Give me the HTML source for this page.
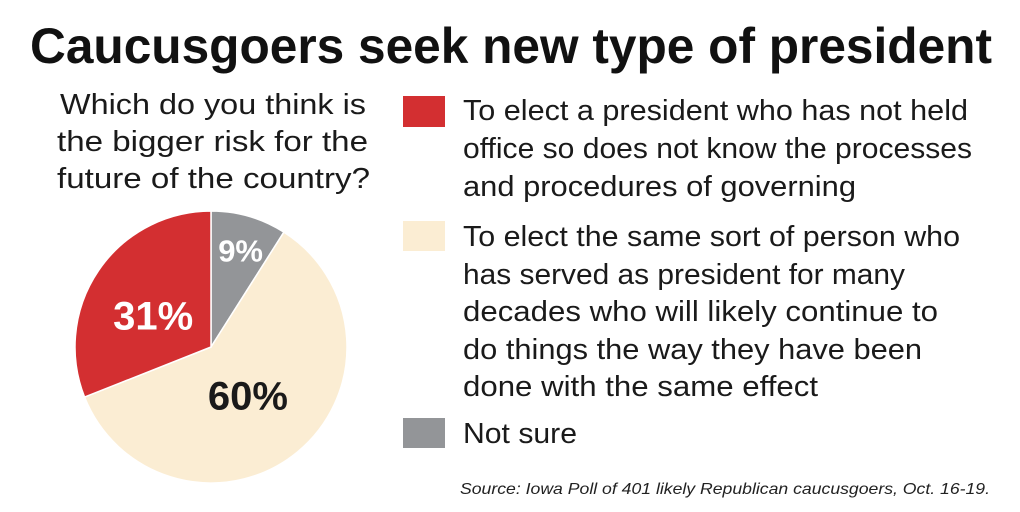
<!DOCTYPE html>
<html><head><meta charset="utf-8"><style>
body{margin:0;background:#fff}
svg{display:block;font-family:"Liberation Sans",sans-serif}
</style></head><body>
<svg width="1020" height="512" viewBox="0 0 1020 512">
<text x="30" y="63" font-size="50" font-weight="bold" fill="#111" textLength="962" lengthAdjust="spacingAndGlyphs">Caucusgoers seek new type of president</text>
<g font-size="29" fill="#1a1a1a">
<text x="60" y="114" textLength="306" lengthAdjust="spacingAndGlyphs">Which do you think is</text>
<text x="57" y="151" textLength="311" lengthAdjust="spacingAndGlyphs">the bigger risk for the</text>
<text x="57" y="188" textLength="313" lengthAdjust="spacingAndGlyphs">future of the country?</text>
</g>
<g id="pie"></g>
<g font-size="29" fill="#1a1a1a">
<rect x="403" y="96" width="42" height="31" fill="#d32f31"/>
<text x="463" y="120" textLength="505" lengthAdjust="spacingAndGlyphs">To elect a president who has not held</text>
<text x="463" y="158" textLength="509" lengthAdjust="spacingAndGlyphs">office so does not know the processes</text>
<text x="463" y="196" textLength="393" lengthAdjust="spacingAndGlyphs">and procedures of governing</text>
<rect x="403" y="221" width="42" height="30" fill="#fbedd3"/>
<text x="463" y="246" textLength="497" lengthAdjust="spacingAndGlyphs">To elect the same sort of person who</text>
<text x="463" y="284" textLength="442" lengthAdjust="spacingAndGlyphs">has served as president for many</text>
<text x="463" y="321" textLength="475" lengthAdjust="spacingAndGlyphs">decades who will likely continue to</text>
<text x="463" y="359" textLength="459" lengthAdjust="spacingAndGlyphs">do things the way they have been</text>
<text x="463" y="396" textLength="355" lengthAdjust="spacingAndGlyphs">done with the same effect</text>
<rect x="403" y="418" width="42" height="30" fill="#939598"/>
<text x="463" y="443" textLength="114" lengthAdjust="spacingAndGlyphs">Not sure</text>
</g>
<text x="990" y="494" font-size="16" font-style="italic" fill="#222" text-anchor="end" textLength="530" lengthAdjust="spacingAndGlyphs">Source: Iowa Poll of 401 likely Republican caucusgoers, Oct. 16-19.</text>
</svg>
<script>
const categories=["Not sure","Same sort","Outsider"];
const values=[9,60,31];
const labels=["9%","60%","31%"];
const colors=["#939598","#fbedd3","#d32f31"];
const textColors=["#fff","#1a1a1a","#fff"];
const labelSizes=[31,40,40];
const labelR=[0.78,0.46,0.55];
const ns="http://www.w3.org/2000/svg";
const g=document.getElementById('pie');
const cx=211,cy=347,r=136;
const total=values.reduce((a,b)=>a+b,0);
let a0=0;
function pt(a,rr){return [cx+rr*Math.sin(a),cy-rr*Math.cos(a)];}
const offsets=[[0,5],[-3,0],[4,10]];
values.forEach((v,i)=>{
  const a1=a0+v/total*2*Math.PI;
  const p0=pt(a0,r),p1=pt(a1,r);
  const path=document.createElementNS(ns,'path');
  path.setAttribute('d',`M${cx},${cy}L${p0[0]},${p0[1]}A${r},${r} 0 ${a1-a0>Math.PI?1:0} 1 ${p1[0]},${p1[1]}Z`);
  path.setAttribute('fill',colors[i]);
  path.setAttribute('stroke','#fff');
  path.setAttribute('stroke-width','1.5');
  
  
  g.appendChild(path);
  const m=(a0+a1)/2, lp=pt(m,r*labelR[i]);
  const t=document.createElementNS(ns,'text');
  t.setAttribute('x',lp[0]+offsets[i][0]);t.setAttribute('y',lp[1]+labelSizes[i]*0.36+offsets[i][1]);
  t.setAttribute('text-anchor','middle');t.setAttribute('font-weight','bold');
  t.setAttribute('font-size',labelSizes[i]);t.setAttribute('fill',textColors[i]);
  t.textContent=labels[i];
  
  
  g.appendChild(t);
  a0=a1;
});
</script>
</body></html>
